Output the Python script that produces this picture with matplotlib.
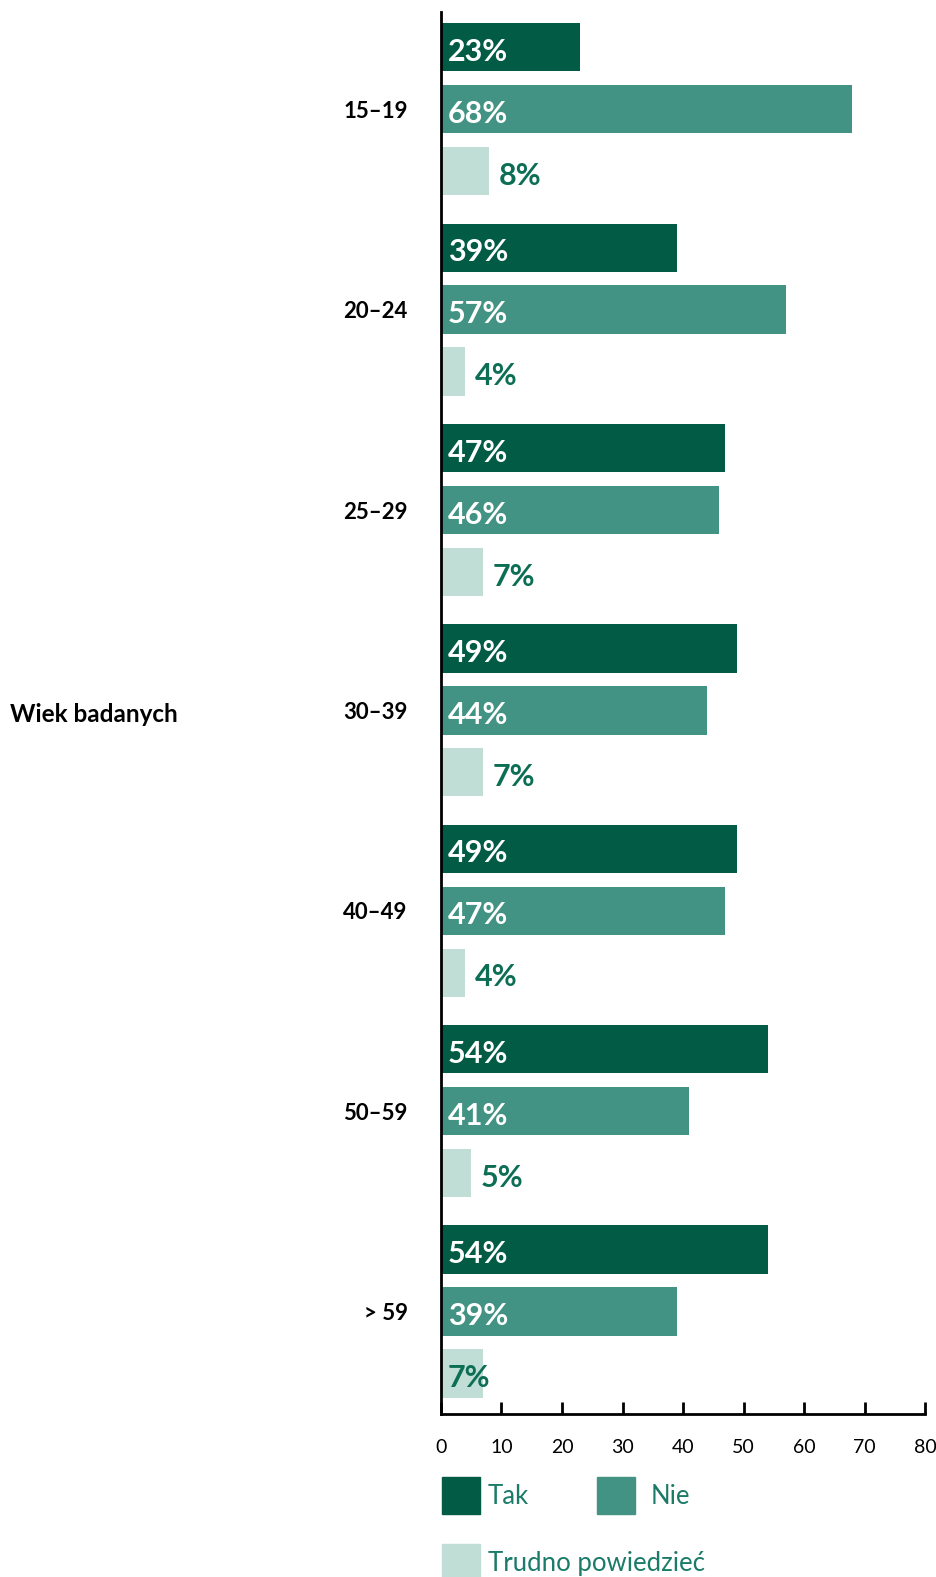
import numpy as np
import matplotlib.pyplot as plt
from matplotlib.patches import Rectangle

plt.rcParams["font.family"] = ["Lato", "DejaVu Sans"]

# Data
age_groups = ["15–19", "20–24", "25–29", "30–39", "40–49", "50–59", "> 59"]
tak = [23, 39, 47, 49, 49, 54, 54]
nie = [68, 57, 46, 44, 47, 41, 39]
trudno = [8, 4, 7, 7, 4, 5, 7]
series_names = ["Tak", "Nie", "Trudno powiedzieć"]
x_ticks = [0, 10, 20, 30, 40, 50, 60, 70, 80]

COLORS = {
    "tak": "#025b45",
    "nie": "#429383",
    "trudno": "#c0ddd6",
    "label": "#0c6e55",
    "legend": "#1b7b68",
}

W, H = 937, 1577
fig = plt.figure(figsize=(W / 100, H / 100), dpi=100)
ax = fig.add_axes([441 / W, 163 / H, 484 / W, 1402 / H])

group_pitch = 3.236
bar_h = 0.78
centers = np.arange(len(age_groups)) * group_pitch

label_kw = dict(textcoords="offset points", ha="left", va="center_baseline",
                fontsize=22, fontweight="bold")

series = [(tak, COLORS["tak"]), (nie, COLORS["nie"]), (trudno, COLORS["trudno"])]
for k, (vals, col) in enumerate(series):
    ypos = centers + k
    bars = ax.barh(ypos, vals, height=bar_h, color=col, zorder=2)
    for i, (bar, v) in enumerate(zip(bars, vals)):
        yc = bar.get_y() + bar.get_height() / 2
        if k < 2:
            ax.annotate(f"{v}%", (0, yc), xytext=(5, -1.5), color="white", **label_kw)
        elif i == len(vals) - 1:
            # last small bar: label sits inside
            ax.annotate(f"{v}%", (0, yc), xytext=(5, -1.5), color=COLORS["label"], **label_kw)
        else:
            ax.annotate(f"{v}%", (v, yc), xytext=(7, -1.5), color=COLORS["label"], **label_kw)

ax.set_xlim(0, 80)
ax.set_ylim(22.07, -0.57)
ax.set_xticks(x_ticks)
ax.set_xticklabels([str(t) for t in x_ticks], fontsize=14)
ax.tick_params(axis="x", direction="in", length=9, width=2, pad=18, colors="black")
ax.set_yticks(centers + 1)
ax.set_yticklabels(age_groups, fontsize=16, fontweight="bold")
ax.tick_params(axis="y", length=0, pad=24)

for side in ["top", "right"]:
    ax.spines[side].set_visible(False)
for side in ["left", "bottom"]:
    ax.spines[side].set_linewidth(2)
    ax.spines[side].set_color("black")

fig.text(10 / W, 1 - 714 / H, "Wiek badanych", ha="left", va="center",
         fontsize=17.5, fontweight="bold", color="black")

# Legend (drawn by hand to keep the original layout)
def legend_entry(x, y, color, label, text_gap):
    fig.patches.append(Rectangle((x / W, 1 - (y + 37) / H), 38 / W, 37 / H,
                                 transform=fig.transFigure, color=color, figure=fig))
    fig.text((x + 38 + text_gap) / W, 1 - (y + 19) / H, label, ha="left", va="center",
             fontsize=18.5, color=COLORS["legend"])

legend_entry(442, 1477, COLORS["tak"], series_names[0], 8)
legend_entry(597, 1477, COLORS["nie"], series_names[1], 16)
legend_entry(442, 1544, COLORS["trudno"], series_names[2], 8)

plt.savefig("out.png", dpi=100, facecolor="white")
plt.close()
